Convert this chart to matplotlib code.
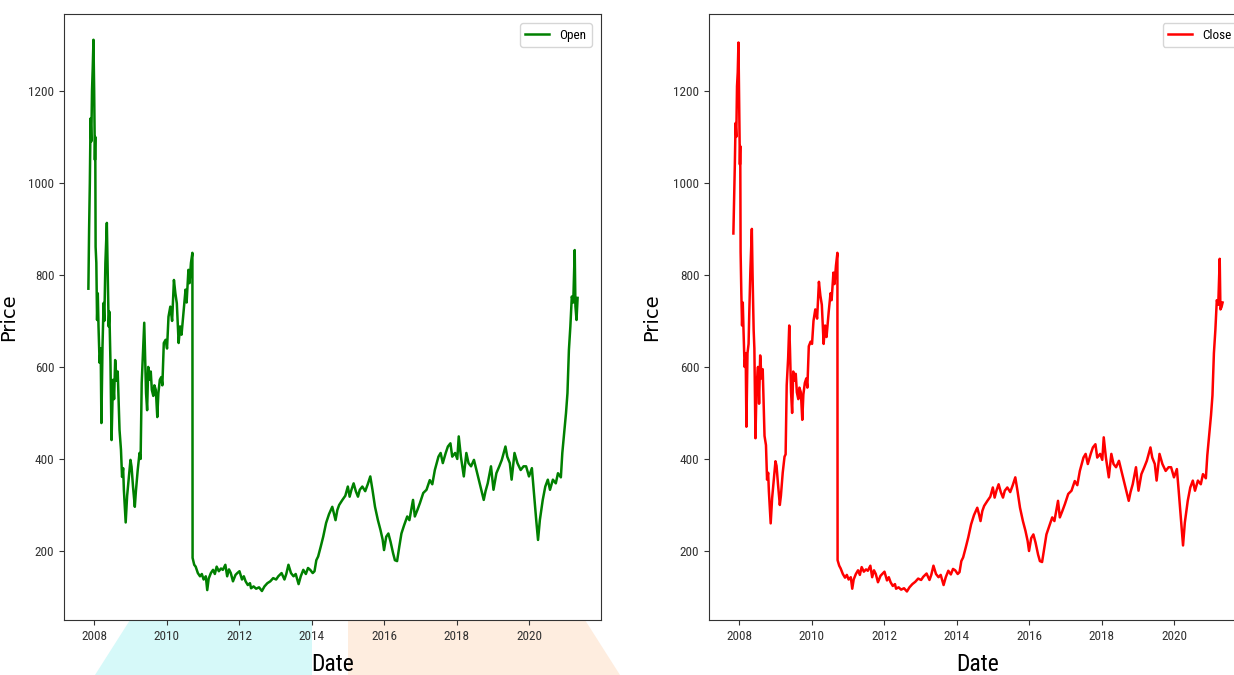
import datetime as dt
import matplotlib
matplotlib.use("Agg")
import matplotlib.pyplot as plt
import matplotlib.dates as mdates
from matplotlib.patches import Polygon, Circle
from matplotlib import font_manager

# ---- data ----
open_years = [
    2007.84, 2007.86, 2007.88, 2007.90, 2007.92, 2007.94, 2007.96, 2007.98, 2008.00, 2008.02,
    2008.03, 2008.04, 2008.06, 2008.08, 2008.10, 2008.12, 2008.15, 2008.18, 2008.20, 2008.23,
    2008.26, 2008.28, 2008.31, 2008.35, 2008.37, 2008.40, 2008.42, 2008.45, 2008.48, 2008.52,
    2008.55, 2008.58, 2008.62, 2008.65, 2008.70, 2008.74, 2008.77, 2008.80, 2008.82, 2008.87,
    2008.91, 2008.95, 2009.00, 2009.03, 2009.07, 2009.12, 2009.15, 2009.20, 2009.25, 2009.28,
    2009.31, 2009.35, 2009.38, 2009.40, 2009.43, 2009.46, 2009.49, 2009.53, 2009.56, 2009.59,
    2009.63, 2009.66, 2009.70, 2009.74, 2009.77, 2009.81, 2009.85, 2009.88, 2009.92, 2009.97,
    2010.01, 2010.05, 2010.10, 2010.15, 2010.20, 2010.24, 2010.28, 2010.33, 2010.37, 2010.41,
    2010.47, 2010.52, 2010.55, 2010.60, 2010.63, 2010.67, 2010.71, 2010.715, 2010.76, 2010.80,
    2010.86, 2010.92, 2010.97, 2011.02, 2011.08, 2011.12, 2011.16, 2011.22, 2011.28, 2011.33,
    2011.38, 2011.44, 2011.50, 2011.55, 2011.62, 2011.67, 2011.72, 2011.77, 2011.83, 2011.90,
    2011.95, 2012.01, 2012.08, 2012.13, 2012.18, 2012.24, 2012.30, 2012.33, 2012.40, 2012.47,
    2012.55, 2012.63, 2012.70, 2012.78, 2012.86, 2012.94, 2013.02, 2013.08, 2013.17, 2013.25,
    2013.30, 2013.36, 2013.43, 2013.50, 2013.56, 2013.64, 2013.70, 2013.77, 2013.84, 2013.90,
    2013.96, 2014.03, 2014.08, 2014.13, 2014.18, 2014.25, 2014.32, 2014.40, 2014.48, 2014.57,
    2014.62, 2014.66, 2014.71, 2014.76, 2014.85, 2014.93, 2015.00, 2015.05, 2015.10, 2015.16,
    2015.22, 2015.28, 2015.33, 2015.40, 2015.48, 2015.55, 2015.62, 2015.68, 2015.75, 2015.83,
    2015.90, 2015.96, 2016.00, 2016.06, 2016.12, 2016.18, 2016.25, 2016.30, 2016.36, 2016.42,
    2016.48, 2016.55, 2016.64, 2016.70, 2016.80, 2016.85, 2016.92, 2016.99, 2017.08, 2017.17,
    2017.26, 2017.33, 2017.40, 2017.50, 2017.56, 2017.62, 2017.70, 2017.76, 2017.83, 2017.88,
    2017.96, 2018.02, 2018.06, 2018.12, 2018.20, 2018.27, 2018.33, 2018.40, 2018.48, 2018.57,
    2018.66, 2018.75, 2018.80, 2018.86, 2018.95, 2019.02, 2019.10, 2019.18, 2019.25, 2019.35,
    2019.40, 2019.47, 2019.52, 2019.60, 2019.68, 2019.77, 2019.85, 2019.92, 2020.00, 2020.08,
    2020.13, 2020.20, 2020.25, 2020.30, 2020.38, 2020.45, 2020.52, 2020.58, 2020.66, 2020.74,
    2020.80, 2020.88, 2020.92, 2020.97, 2021.02, 2021.06, 2021.10, 2021.14, 2021.18, 2021.22,
    2021.26, 2021.28, 2021.31, 2021.34,
]

open_values = [
    770, 900, 1000, 1140, 1090, 1200, 1250, 1311, 1200, 1050,
    1100, 861, 826, 702, 760, 688, 609, 640, 478, 643,
    739, 700, 826, 913, 820, 688, 720, 609, 441, 572,
    530, 615, 570, 590, 463, 420, 361, 380, 333, 262,
    320, 354, 398, 383, 340, 296, 330, 376, 413, 400,
    565, 640, 696, 637, 543, 506, 600, 572, 590, 550,
    537, 560, 550, 491, 543, 572, 578, 560, 652, 659,
    640, 709, 731, 700, 789, 760, 738, 652, 688, 670,
    724, 768, 740, 811, 782, 826, 848, 185, 170, 166,
    152, 145, 150, 138, 145, 115, 140, 152, 159, 150,
    166, 156, 162, 159, 170, 145, 160, 152, 134, 148,
    152, 156, 138, 145, 134, 126, 130, 119, 123, 118,
    121, 113, 123, 130, 134, 141, 138, 145, 152, 138,
    150, 170, 152, 145, 150, 128, 145, 159, 150, 163,
    159, 152, 156, 180, 188, 209, 231, 261, 280, 296,
    280, 267, 289, 300, 311, 320, 340, 318, 333, 347,
    330, 318, 333, 340, 330, 345, 362, 333, 296, 267,
    246, 225, 202, 231, 238, 220, 195, 180, 178, 209,
    238, 255, 275, 267, 311, 275, 289, 304, 326, 333,
    354, 345, 376, 405, 413, 391, 413, 427, 434, 405,
    413, 400, 449, 405, 362, 413, 391, 384, 398, 369,
    340, 311, 330, 347, 384, 333, 369, 384, 398, 427,
    405, 391, 355, 413, 391, 376, 384, 384, 362, 380,
    333, 267, 224, 267, 311, 340, 355, 333, 355, 347,
    369, 360, 413, 456, 500, 543, 637, 688, 753, 740,
    854, 732, 702, 750,
]

close_years = list(open_years)

close_values = [
    890, 960, 1040, 1130, 1100, 1210, 1240, 1305, 1180, 1040,
    1080, 850, 760, 690, 740, 680, 600, 630, 470, 630,
    650, 720, 810, 900, 800, 680, 640, 445, 560, 600,
    520, 625, 575, 595, 450, 430, 355, 370, 330, 260,
    315, 350, 395, 385, 345, 300, 320, 370, 405, 410,
    560, 620, 690, 640, 545, 500, 590, 570, 585, 545,
    530, 555, 545, 485, 540, 565, 575, 555, 645, 655,
    650, 700, 725, 705, 785, 755, 735, 650, 690, 665,
    720, 760, 745, 805, 780, 820, 848, 180, 168, 162,
    150, 142, 148, 138, 143, 118, 138, 150, 158, 148,
    165, 155, 160, 157, 168, 143, 158, 150, 132, 146,
    150, 155, 136, 143, 132, 124, 128, 118, 121, 116,
    119, 112, 121, 128, 133, 140, 137, 144, 151, 137,
    148, 168, 150, 143, 148, 126, 143, 157, 149, 161,
    158, 150, 154, 178, 186, 207, 229, 258, 278, 294,
    279, 265, 287, 298, 309, 318, 338, 316, 331, 345,
    328, 316, 331, 338, 328, 343, 360, 331, 294, 265,
    244, 222, 200, 228, 236, 218, 192, 178, 176, 206,
    236, 252, 273, 265, 309, 273, 287, 302, 324, 331,
    352, 343, 374, 403, 411, 389, 411, 425, 432, 403,
    411, 398, 447, 403, 360, 411, 389, 382, 396, 367,
    338, 309, 328, 345, 382, 331, 367, 382, 396, 425,
    403, 389, 353, 411, 389, 374, 382, 382, 360, 378,
    331, 262, 212, 262, 309, 338, 353, 331, 353, 345,
    367, 358, 408, 450, 495, 538, 630, 680, 745, 735,
    835, 725, 730, 740,
]


def to_dates(years):
    out = []
    for y in years:
        yi = int(y)
        start = dt.datetime(yi, 1, 1)
        out.append(start + dt.timedelta(days=(y - yi) * 365.25))
    return out


open_dates = to_dates(open_years)
close_dates = to_dates(close_years)

# pick a narrow face if one is installed
names = {f.name for f in font_manager.fontManager.ttflist}
narrow_candidates = ['Liberation Sans Narrow', 'DejaVu Sans Condensed', 'Roboto Condensed',
                     'Open Sans Condensed', 'Noto Sans Condensed']
NARROW = [n for n in narrow_candidates if n in names] + ['DejaVu Sans']
STRETCH = 'condensed'

W, H = 1234, 675
fig = plt.figure(figsize=(W / 100, H / 100), dpi=100)
fig.patch.set_facecolor('white')


def fx(px):
    return px / W


def fy(py):
    return 1 - py / H


# faint watermark shapes behind the charts
fig.patches.append(Polygon([(fx(130), fy(620)), (fx(312), fy(620)), (fx(312), fy(675)), (fx(95), fy(675))],
                           closed=True, transform=fig.transFigure, facecolor='#d6f9f9',
                           edgecolor='none', zorder=-5))
fig.patches.append(Polygon([(fx(348), fy(620)), (fx(585), fy(620)), (fx(620), fy(675)), (fx(348), fy(675))],
                           closed=True, transform=fig.transFigure, facecolor='#feeddf',
                           edgecolor='none', zorder=-5))
fig.patches.append(Circle((fx(765), fy(710)), 0.05, transform=fig.transFigure,
                          facecolor='#fadcdc', edgecolor='none', zorder=-5))

ax_w = 537 / W
ax_h = 606 / H
ax_b = 1 - 620 / H
ax1 = fig.add_axes([64 / W, ax_b, ax_w, ax_h])
ax2 = fig.add_axes([709 / W, ax_b, ax_w, ax_h])

for ax, dates, vals, color, label, ylx in [
    (ax1, open_dates, open_values, 'green', 'Open', -0.086),
    (ax2, close_dates, close_values, 'red', 'Close', -0.089),
]:
    ax.plot(dates, vals, color=color, lw=1.8, label=label)
    ax.xaxis.set_major_locator(mdates.YearLocator(2))
    ax.xaxis.set_major_formatter(mdates.DateFormatter('%Y'))
    ax.set_ylim(50, 1367)
    ax.set_xlim(dt.datetime(2007, 3, 3), dt.datetime(2021, 12, 27))
    ax.set_yticks([200, 400, 600, 800, 1000, 1200])
    for lab in ax.get_xticklabels() + ax.get_yticklabels():
        lab.set_family(NARROW)
        lab.set_stretch(STRETCH)
        lab.set_fontsize(9.5)
        lab.set_color('#222222')
    ax.set_xlabel('Date', family=NARROW, stretch=STRETCH, fontsize=17)
    ax.xaxis.set_label_coords(0.5, -0.054)
    ax.set_ylabel('Price', fontsize=14)
    ax.yaxis.set_label_coords(ylx, 0.5)
    ax.legend(loc='upper right', prop={'family': NARROW, 'stretch': STRETCH, 'size': 9.5},
              handlelength=1.8, borderaxespad=0.7)
    for sp in ax.spines.values():
        sp.set_color('#333333')
    ax.tick_params(colors='#333333', length=3.5)

fig.savefig('out.png', dpi=100)
